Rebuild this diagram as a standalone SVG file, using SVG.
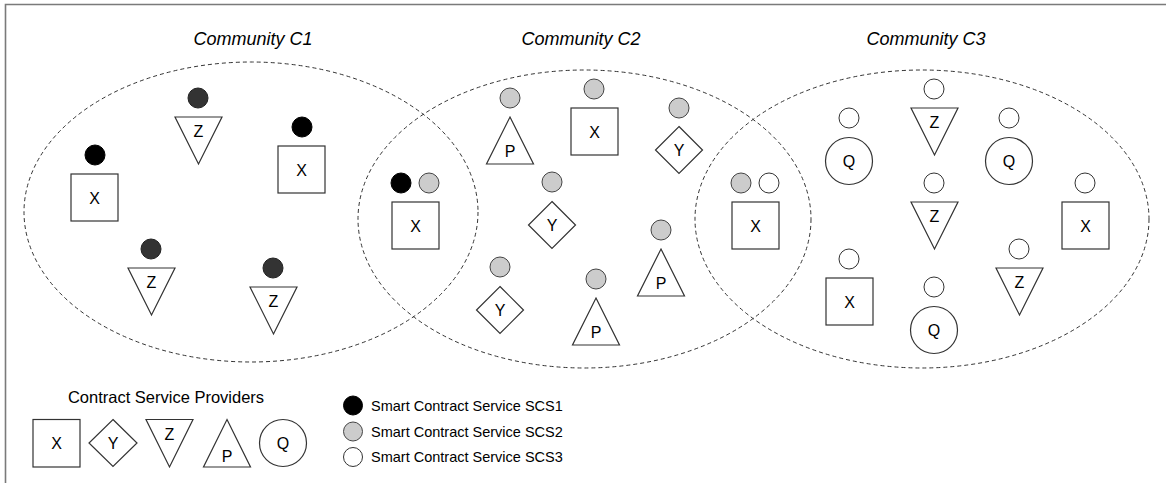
<svg xmlns="http://www.w3.org/2000/svg" width="1166" height="483" viewBox="0 0 1166 483">
<style>
.frame{fill:none;stroke:#7a7a7a;stroke-width:1.6}
.comm{fill:none;stroke:#333;stroke-width:1;stroke-dasharray:4 3}
.title{font-family:"Liberation Sans",Arial,sans-serif;font-size:18px;font-style:italic;fill:#000;text-anchor:middle}
.shape{fill:#fff;stroke:#333;stroke-width:1.2}
.lbl{font-family:"Liberation Sans",Arial,sans-serif;font-size:16px;fill:#000;text-anchor:middle}
.s1{fill:#000;stroke:#000;stroke-width:1}
.s1d{fill:#333;stroke:#222;stroke-width:1}
.s2{fill:#ccc;stroke:#444;stroke-width:1}
.s3{fill:#fff;stroke:#333;stroke-width:1}
.leg{font-family:"Liberation Sans",Arial,sans-serif;font-size:14.5px;fill:#000}
.legt{font-family:"Liberation Sans",Arial,sans-serif;font-size:16.5px;fill:#000;text-anchor:middle}
</style>
<rect width="1166" height="483" fill="#fff"/>
<path class="frame" d="M5.5 483 V4.5 H1166"/>

<g id="communities">
  <g id="community-c1">
    <ellipse class="comm" cx="251" cy="212" rx="227" ry="150"/>
    <text class="title" x="253" y="45">Community C1</text>
  </g>
  <g id="community-c2">
    <ellipse class="comm" cx="584.5" cy="219" rx="226.5" ry="149"/>
    <text class="title" x="581" y="45">Community C2</text>
  </g>
  <g id="community-c3">
    <ellipse class="comm" cx="922" cy="219" rx="227" ry="149"/>
    <text class="title" x="926" y="45">Community C3</text>
  </g>
</g>

<g id="connectors"/>

<!-- Community C1 -->
<g id="c1-x1">
  <circle class="s1" cx="95" cy="155" r="10"/>
  <rect class="shape" x="71" y="174" width="47" height="47"/>
  <text class="lbl" x="94.5" y="203.5">X</text>
</g>
<g id="c1-x2">
  <circle class="s1" cx="302" cy="127" r="10"/>
  <rect class="shape" x="278" y="146" width="47" height="47"/>
  <text class="lbl" x="301.5" y="175.5">X</text>
</g>
<g id="c1-z1">
  <circle class="s1d" cx="198" cy="98" r="10"/>
  <polygon class="shape" points="175,117 222,117 198.5,164"/>
  <text class="lbl" x="198.5" y="137">Z</text>
</g>
<g id="c1-z2">
  <circle class="s1d" cx="151" cy="249" r="10"/>
  <polygon class="shape" points="128,268 175,268 151.5,315"/>
  <text class="lbl" x="151.5" y="288">Z</text>
</g>
<g id="c1-z3">
  <circle class="s1d" cx="273" cy="268" r="10"/>
  <polygon class="shape" points="250,287 297,287 273.5,334"/>
  <text class="lbl" x="273.5" y="307">Z</text>
</g>

<!-- Overlap C1/C2 -->
<g id="c12-x">
  <circle class="s1" cx="401" cy="183" r="10"/>
  <circle class="s2" cx="429" cy="183" r="10"/>
  <rect class="shape" x="392" y="202" width="47" height="47"/>
  <text class="lbl" x="415.5" y="231.5">X</text>
</g>

<!-- Community C2 -->
<g id="c2-p1">
  <circle class="s2" cx="510" cy="98" r="10"/>
  <polygon class="shape" points="510,117 533.5,164 486.5,164"/>
  <text class="lbl" x="510" y="157">P</text>
</g>
<g id="c2-x">
  <circle class="s2" cx="594" cy="89" r="10"/>
  <rect class="shape" x="571" y="108" width="47" height="47"/>
  <text class="lbl" x="594.5" y="137.5">X</text>
</g>
<g id="c2-y1">
  <circle class="s2" cx="679" cy="108" r="10"/>
  <polygon class="shape" points="679,126.5 702.5,150 679,173.5 655.5,150"/>
  <text class="lbl" x="679" y="156">Y</text>
</g>
<g id="c2-y2">
  <circle class="s2" cx="552" cy="182" r="10"/>
  <polygon class="shape" points="552,201.5 575.5,225 552,248.5 528.5,225"/>
  <text class="lbl" x="552" y="231">Y</text>
</g>
<g id="c2-p2">
  <circle class="s2" cx="661" cy="230" r="10"/>
  <polygon class="shape" points="661,249 684.5,296 637.5,296"/>
  <text class="lbl" x="661" y="289">P</text>
</g>
<g id="c2-y3">
  <circle class="s2" cx="500" cy="267" r="10"/>
  <polygon class="shape" points="500,286.5 523.5,310 500,333.5 476.5,310"/>
  <text class="lbl" x="500" y="316">Y</text>
</g>
<g id="c2-p3">
  <circle class="s2" cx="596" cy="279" r="10"/>
  <polygon class="shape" points="596,298 619.5,345 572.5,345"/>
  <text class="lbl" x="596" y="338">P</text>
</g>

<!-- Overlap C2/C3 -->
<g id="c23-x">
  <circle class="s2" cx="741" cy="183" r="10"/>
  <circle class="s3" cx="769" cy="183" r="10"/>
  <rect class="shape" x="732" y="202" width="47" height="47"/>
  <text class="lbl" x="755.5" y="231.5">X</text>
</g>

<!-- Community C3 -->
<g id="c3-q1">
  <circle class="s3" cx="849" cy="118" r="10"/>
  <circle class="shape" cx="849" cy="161" r="23.5"/>
  <text class="lbl" x="849" y="166.5">Q</text>
</g>
<g id="c3-z1">
  <circle class="s3" cx="934" cy="89" r="10"/>
  <polygon class="shape" points="911,108 958,108 934.5,155"/>
  <text class="lbl" x="934.5" y="128">Z</text>
</g>
<g id="c3-q2">
  <circle class="s3" cx="1009" cy="118" r="10"/>
  <circle class="shape" cx="1009" cy="161" r="23.5"/>
  <text class="lbl" x="1009" y="166.5">Q</text>
</g>
<g id="c3-z2">
  <circle class="s3" cx="934" cy="183" r="10"/>
  <polygon class="shape" points="911,202 958,202 934.5,249"/>
  <text class="lbl" x="934.5" y="222">Z</text>
</g>
<g id="c3-x1">
  <circle class="s3" cx="1085" cy="183" r="10"/>
  <rect class="shape" x="1062" y="202" width="47" height="47"/>
  <text class="lbl" x="1085.5" y="231.5">X</text>
</g>
<g id="c3-x2">
  <circle class="s3" cx="849" cy="259" r="10"/>
  <rect class="shape" x="826" y="278" width="47" height="47"/>
  <text class="lbl" x="849.5" y="307.5">X</text>
</g>
<g id="c3-z3">
  <circle class="s3" cx="1019" cy="249" r="10"/>
  <polygon class="shape" points="996,268 1043,268 1019.5,315"/>
  <text class="lbl" x="1019.5" y="288">Z</text>
</g>
<g id="c3-q3">
  <circle class="s3" cx="934" cy="287" r="10"/>
  <circle class="shape" cx="934" cy="330" r="23.5"/>
  <text class="lbl" x="934" y="335.5">Q</text>
</g>

<!-- Legend: providers -->
<g id="legend-providers">
  <text class="legt" x="166" y="403">Contract Service Providers</text>
  <g id="legend-x">
    <rect class="shape" x="33" y="419.5" width="47" height="47.5"/>
    <text class="lbl" x="56.5" y="449">X</text>
  </g>
  <g id="legend-y">
    <polygon class="shape" points="113,419.5 137,443 113,466.5 89,443"/>
    <text class="lbl" x="113" y="449">Y</text>
  </g>
  <g id="legend-z">
    <polygon class="shape" points="146,419.5 193,419.5 169.5,467"/>
    <text class="lbl" x="169.5" y="439.5">Z</text>
  </g>
  <g id="legend-p">
    <polygon class="shape" points="227,419.5 250.5,467 203.5,467"/>
    <text class="lbl" x="227" y="462">P</text>
  </g>
  <g id="legend-q">
    <circle class="shape" cx="283" cy="443" r="23.5"/>
    <text class="lbl" x="283" y="449">Q</text>
  </g>
</g>

<!-- Legend: services -->
<g id="legend-services">
  <g id="legend-scs1">
    <circle class="s1" cx="353" cy="405.5" r="9.5"/>
    <text class="leg" x="371" y="410.5">Smart Contract Service SCS1</text>
  </g>
  <g id="legend-scs2">
    <circle class="s2" cx="353" cy="431.5" r="9.5"/>
    <text class="leg" x="371" y="436.5">Smart Contract Service SCS2</text>
  </g>
  <g id="legend-scs3">
    <circle class="s3" cx="353" cy="457" r="9.5"/>
    <text class="leg" x="371" y="462">Smart Contract Service SCS3</text>
  </g>
</g>
</svg>
